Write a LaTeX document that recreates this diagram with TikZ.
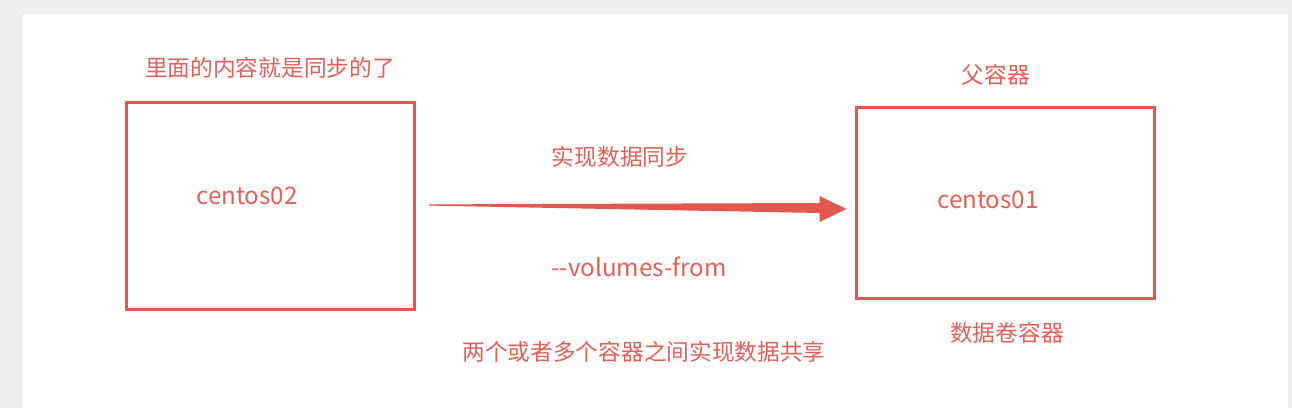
\documentclass[tikz,border=0pt]{standalone}
\usepackage{fontspec}
\usepackage{tikz}
\usetikzlibrary{calc}
\newfontfamily\cjkfont{Noto Sans CJK SC}
\definecolor{boxred}{RGB}{226,88,78}
\definecolor{txtred}{RGB}{228,96,88}
\definecolor{pagegray}{RGB}{239,239,239}

\begin{document}
\begin{tikzpicture}[
    x=1pt, y=-1pt,
    font=\cjkfont\fontsize{22.7}{26}\selectfont,
    container/.style={
        draw=boxred, line width=3pt, fill=white,
        inner sep=0pt, outer sep=0pt
    },
    lbl/.style={text=txtred, inner sep=0pt, anchor=center},
    latin/.style={lbl, font=\cjkfont\fontsize{24.2}{28}\selectfont},
    syncarrow/.style={fill=boxred, draw=none}
]

% ---- page: gray margin, white panel ----
\fill[pagegray] (0,0) rectangle (1292,408);
\fill[white] (23,14) rectangle (1288,408);
\useasboundingbox (0,0) rectangle (1292,408);

% ---- the two containers ----
\node[container, minimum width=288pt, minimum height=207pt] (c02) at (270,205.5) {};
\node[container, minimum width=298pt, minimum height=191pt] (c01) at (1005.5,203) {};

\node[latin] (c02name) at (247,196) {centos02};
\node[latin] (c01name) at (988,200) {centos01};

% ---- labels round the containers ----
\node[lbl] (inside) at (270,68)  {里面的内容就是同步的了};
\node[lbl] (parent) at (996,75)  {父容器};
\node[lbl] (volbox) at (1007,333) {数据卷容器};

% ---- tapered arrow: centos02 -> centos01 ----
\coordinate (tail) at ($(c02.east)+(15,-0.5)$);
\coordinate (tip)  at ($(c01.west)+(-10,6)$);
\fill[syncarrow] ($(tail)+(0,-0.6)$) -- ($(tip)+(-27,-6)$) -- ($(tip)+(-27,-13)$)
    -- (tip) -- ($(tip)+(-27,13)$) -- ($(tip)+(-27,4)$) -- ($(tail)+(0,0.6)$) -- cycle;

\node[lbl] (sync)   at (620,157) {实现数据同步};
\node[latin] (option) at (639,267) {-\kern0pt-volumes-from};
\node[lbl] (share)  at (644,352) {两个或者多个容器之间实现数据共享};

\end{tikzpicture}
\end{document}
